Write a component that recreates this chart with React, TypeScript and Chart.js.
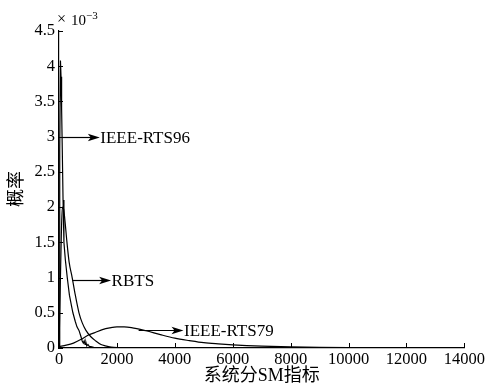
import React, { useEffect, useRef } from "react";
import { Chart, registerables } from "chart.js";

Chart.register(...registerables);

// ---- data (y values in units of 1e-3) ----
const rts96X = [0, 25, 50, 70, 90, 110, 140, 170, 220, 285, 360, 430, 480, 560, 620, 690, 760, 800, 840, 870, 900, 930, 960, 1000, 1050, 1100, 1200, 1400];
const rts96Y = [0, 2.8, 4.08, 3.85, 3.4, 2.9, 2.1, 1.5, 1.25, 1.0, 0.75, 0.6, 0.5, 0.38, 0.3, 0.25, 0.16, 0.1, 0.07, 0.1, 0.05, 0.08, 0.03, 0.05, 0.02, 0.02, 0.01, 0];

const rbtsX = [0, 40, 80, 115, 160, 200, 275, 350, 455, 550, 690, 800, 930, 1100, 1270, 1450, 1600, 1800, 2100, 2500];
const rbtsY = [0, 0.8, 1.6, 2.0, 1.97, 1.83, 1.5, 1.22, 1.0, 0.78, 0.5, 0.36, 0.25, 0.16, 0.1, 0.05, 0.03, 0.012, 0.005, 0];

const rts79X = [0, 250, 500, 750, 1000, 1250, 1500, 1750, 2000, 2250, 2500, 3000, 3500, 4000, 4500, 5000, 5500, 6000, 7000, 8000, 9000, 10000, 11000, 12000, 13200];
const rts79Y = [0.02, 0.04, 0.07, 0.12, 0.18, 0.22, 0.26, 0.285, 0.3, 0.3, 0.29, 0.245, 0.19, 0.14, 0.105, 0.075, 0.058, 0.045, 0.027, 0.016, 0.009, 0.005, 0.003, 0.002, 0.001];

const xTicks = [0, 2000, 4000, 6000, 8000, 10000, 12000, 14000];
const yTicks = [0, 0.5, 1, 1.5, 2, 2.5, 3, 3.5, 4, 4.5];

const annLabels = ["IEEE-RTS96", "RBTS", "IEEE-RTS79"];
const annFromX = [100, 455, 2750];
const annToX = [1410, 1800, 4300];
const annY = [3.0, 0.97, 0.255];

const xTitle = "系统分SM指标";
const yTitle = "概率";
const expBase = "10";
const expPower = "−3";

const SERIF = "'Liberation Serif', 'Times New Roman', serif";
const CJK = "'Liberation Serif', 'Noto Sans CJK SC', sans-serif";

const toPoints = (xs: number[], ys: number[]) => xs.map((x, i) => ({ x, y: ys[i] }));

const decorPlugin = {
  id: "decor",
  afterDraw(chart: any) {
    const { ctx, chartArea } = chart;
    const xs = chart.scales.x;
    const ys = chart.scales.y;
    ctx.save();
    ctx.strokeStyle = "#000";
    ctx.fillStyle = "#000";
    ctx.lineWidth = 1;
    // inward ticks
    for (const v of xTicks) {
      const px = Math.round(xs.getPixelForValue(v)) + 0.5;
      ctx.beginPath();
      ctx.moveTo(px, chartArea.bottom);
      ctx.lineTo(px, chartArea.bottom - 5);
      ctx.stroke();
    }
    for (const v of yTicks) {
      const py = Math.round(ys.getPixelForValue(v)) + 0.5;
      ctx.beginPath();
      ctx.moveTo(chartArea.left, py);
      ctx.lineTo(chartArea.left + 4, py);
      ctx.stroke();
    }
    // annotations
    ctx.font = `17px ${SERIF}`;
    ctx.textAlign = "left";
    ctx.textBaseline = "middle";
    annLabels.forEach((lab, i) => {
      const x0 = xs.getPixelForValue(annFromX[i]);
      const x1 = xs.getPixelForValue(annToX[i]);
      const py = Math.round(ys.getPixelForValue(annY[i])) + 0.5;
      ctx.lineWidth = 1.2;
      ctx.beginPath();
      ctx.moveTo(x0, py);
      ctx.lineTo(x1 - 8, py);
      ctx.stroke();
      ctx.beginPath();
      ctx.moveTo(x1, py);
      ctx.lineTo(x1 - 12, py - 3.8);
      ctx.lineTo(x1 - 9, py);
      ctx.lineTo(x1 - 12, py + 3.8);
      ctx.closePath();
      ctx.fill();
      ctx.fillText(lab, x1 + 0.5, py + 1);
    });
    // axis titles
    ctx.font = `18px ${CJK}`;
    ctx.textAlign = "center";
    ctx.textBaseline = "middle";
    ctx.fillText(xTitle, (chartArea.left + chartArea.right) / 2, 376.5);
    ctx.save();
    ctx.translate(17.5, 189);
    ctx.rotate(-Math.PI / 2);
    ctx.fillText(yTitle, 0, 0);
    ctx.restore();
    // exponent
    ctx.textAlign = "left";
    ctx.textBaseline = "alphabetic";
    ctx.font = `16px ${SERIF}`;
    ctx.fillText("×", 57, 24);
    ctx.font = `15px ${SERIF}`;
    ctx.fillText(expBase, 71, 25);
    ctx.font = `11px ${SERIF}`;
    ctx.fillText(expPower, 86, 19);
    ctx.restore();
  },
};

export default function App() {
  const ref = useRef<HTMLCanvasElement | null>(null);
  useEffect(() => {
    document.body.style.margin = "0";
    const canvas = ref.current!;
    const chart = new Chart(canvas, {
      type: "line",
      data: {
        datasets: [
          { label: "IEEE-RTS96", data: toPoints(rts96X, rts96Y), borderColor: "#000", borderWidth: 1.2, pointRadius: 0, tension: 0 },
          { label: "RBTS", data: toPoints(rbtsX, rbtsY), borderColor: "#000", borderWidth: 1.2, pointRadius: 0, cubicInterpolationMode: "monotone" },
          { label: "IEEE-RTS79", data: toPoints(rts79X, rts79Y), borderColor: "#000", borderWidth: 1.2, pointRadius: 0, cubicInterpolationMode: "monotone" },
        ],
      },
      options: {
        responsive: false,
        animation: false,
        layout: { padding: { left: 0, right: 20, top: 31, bottom: 0 } },
        plugins: { legend: { display: false }, tooltip: { enabled: false } },
        scales: {
          x: {
            type: "linear",
            min: 0,
            max: 14000,
            afterBuildTicks: (s: any) => { s.ticks = xTicks.map((v) => ({ value: v })); },
            afterFit: (s: any) => { s.height = 39; },
            ticks: { color: "#000", font: { family: SERIF, size: 16.5 }, padding: 2, maxRotation: 0, autoSkip: false, callback: (v: any) => String(v) },
            grid: { display: true, drawOnChartArea: false, drawTicks: false },
            border: { display: true, color: "#000", width: 1.2 },
          },
          y: {
            type: "linear",
            min: 0,
            max: 4.5,
            afterBuildTicks: (s: any) => { s.ticks = yTicks.map((v) => ({ value: v })); },
            afterFit: (s: any) => { s.width = 59; },
            ticks: { color: "#000", font: { family: SERIF, size: 16.5 }, padding: 4, autoSkip: false, callback: (v: any) => String(v) },
            grid: { display: true, drawOnChartArea: false, drawTicks: false },
            border: { display: true, color: "#000", width: 1.2 },
          },
        },
      },
      plugins: [decorPlugin],
    } as any);
    return () => chart.destroy();
  }, []);
  return (
    <div style={{ width: 487, height: 387, background: "#fff" }}>
      <canvas ref={ref} width={487} height={387} />
    </div>
  );
}
